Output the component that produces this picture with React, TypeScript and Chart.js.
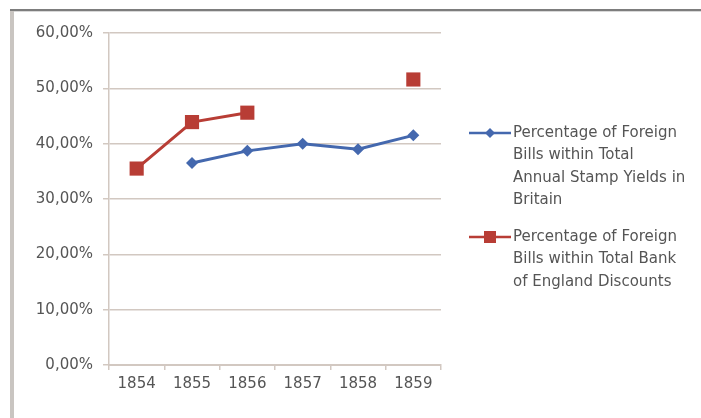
import React, { useEffect, useRef } from "react";
import { Chart, registerables } from "chart.js";

Chart.register(...registerables);

const categories = ["1854", "1855", "1856", "1857", "1858", "1859"];
const stampYields: (number | null)[] = [null, 36.5, 38.7, 40.0, 39.0, 41.5];
const bankDiscounts: (number | null)[] = [35.5, 43.9, 45.6, null, null, 51.6];
const legendLabels = [
  ["Percentage of Foreign", "Bills within Total", "Annual Stamp Yields in", "Britain"],
  ["Percentage of Foreign", "Bills within Total Bank", "of England Discounts"],
];

const BLUE = "#4468ae";
const RED = "#b83d35";
const GRID = "#d2c8c1";
const TEXT = "#555555";
const FONT = "'DejaVu Sans', sans-serif";

const framePlugin = {
  id: "frame",
  beforeDraw(chart: any) {
    const ctx = chart.ctx;
    ctx.save();
    ctx.fillStyle = "#ffffff";
    ctx.fillRect(0, 0, chart.width, chart.height);
    ctx.fillStyle = "#c9c5c1";
    ctx.fillRect(10, 10, 4, chart.height - 10);
    ctx.fillStyle = "#7d7d7d";
    ctx.fillRect(10, 9, chart.width - 10, 2);
    ctx.fillStyle = "#d8d8d8";
    ctx.fillRect(14, 11, chart.width - 14, 1);
    ctx.restore();
  },
};

const legendPlugin = {
  id: "customLegend",
  afterDraw(chart: any) {
    const ctx = chart.ctx;
    const entries = [
      { color: BLUE, style: "diamond", y: 133, lines: legendLabels[0] },
      { color: RED, style: "square", y: 237, lines: legendLabels[1] },
    ];
    ctx.save();
    entries.forEach((e) => {
      ctx.strokeStyle = e.color;
      ctx.lineWidth = 2.5;
      ctx.beginPath();
      ctx.moveTo(469, e.y);
      ctx.lineTo(511, e.y);
      ctx.stroke();
      ctx.fillStyle = e.color;
      if (e.style === "diamond") {
        ctx.beginPath();
        ctx.moveTo(490 - 5, e.y);
        ctx.lineTo(490, e.y - 5);
        ctx.lineTo(490 + 5, e.y);
        ctx.lineTo(490, e.y + 5);
        ctx.closePath();
        ctx.fill();
      } else {
        ctx.fillRect(490 - 6, e.y - 6, 12, 12);
      }
      ctx.fillStyle = TEXT;
      ctx.font = `15px ${FONT}`;
      ctx.textBaseline = "middle";
      ctx.textAlign = "left";
      e.lines.forEach((l, i) => {
        ctx.fillText(l, 513, e.y + i * 22.5);
      });
    });
    ctx.restore();
  },
};

export default function App() {
  const ref = useRef<HTMLCanvasElement>(null);
  useEffect(() => {
    if (!ref.current) return;
    const chart = new Chart(ref.current, {
      type: "line",
      data: {
        labels: categories,
        datasets: [
          {
            label: legendLabels[0].join(" "),
            data: stampYields,
            borderColor: BLUE,
            backgroundColor: BLUE,
            borderWidth: 3,
            pointStyle: "rectRot",
            pointRadius: 6,
            pointBorderWidth: 0,
            spanGaps: false,
            tension: 0,
          },
          {
            label: legendLabels[1].join(" "),
            data: bankDiscounts,
            borderColor: RED,
            backgroundColor: RED,
            borderWidth: 3,
            pointStyle: "rect",
            pointRadius: 10,
            pointBorderWidth: 0,
            spanGaps: false,
            tension: 0,
          },
        ],
      },
      options: {
        animation: false,
        responsive: false,
        maintainAspectRatio: false,
        layout: { padding: { left: 20, right: 260, top: 33, bottom: 0 } },
        plugins: {
          legend: { display: false },
          tooltip: { enabled: false },
        },
        scales: {
          x: {
            offset: true,
            grid: {
              offset: true,
              drawOnChartArea: false,
              drawTicks: true,
              tickLength: 5,
              color: GRID,
              lineWidth: 1.5,
            },
            border: { color: GRID, width: 2 },
            ticks: {
              color: TEXT,
              font: { family: FONT, size: 15 },
              padding: 5,
              maxRotation: 0,
            },
            afterFit(s: any) {
              s.height = 53;
            },
          },
          y: {
            min: 0,
            max: 60,
            grid: {
              color: GRID,
              lineWidth: 1.5,
              tickLength: 6,
            },
            border: { color: GRID, width: 1.5 },
            ticks: {
              stepSize: 10,
              color: TEXT,
              padding: 10,
              font: { family: FONT, size: 15 },
              callback: (v: any) => Number(v).toFixed(2).replace(".", ",") + "%",
            },
            afterFit(s: any) {
              s.width = 89;
            },
          },
        },
      },
      plugins: [framePlugin, legendPlugin],
    });
    return () => chart.destroy();
  }, []);
  return (
    <div style={{ position: "fixed", left: 0, top: 0, width: 701, height: 418 }}>
      <canvas ref={ref} width={701} height={418} style={{ width: 701, height: 418 }} />
    </div>
  );
}
